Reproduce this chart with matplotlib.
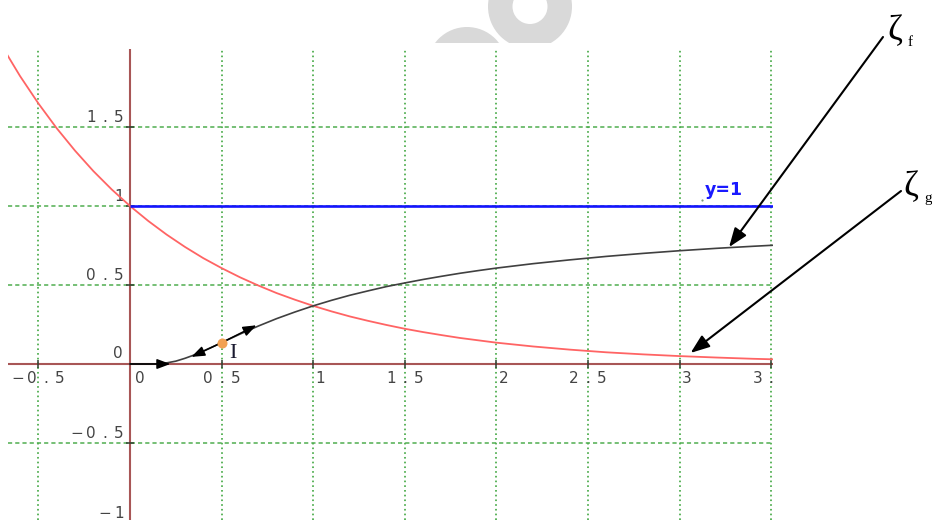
import matplotlib
matplotlib.use("Agg")
import matplotlib.pyplot as plt
from matplotlib.patches import Circle, Wedge, Rectangle

plt.rcParams["lines.scale_dashes"] = False

# ---- data -------------------------------------------------------------
# red curve (zeta_g)
g_x = [-0.7, -0.6, -0.5, -0.4, -0.3, -0.2, -0.1, 0.0, 0.1, 0.2, 0.3, 0.4,
       0.5, 0.6, 0.7, 0.8, 0.9, 1.0, 1.1, 1.2, 1.3, 1.4, 1.5, 1.6, 1.7,
       1.8, 1.9, 2.0, 2.2, 2.4, 2.6, 2.8, 3.0, 3.2, 3.4, 3.6]
g_y = [2.014, 1.822, 1.649, 1.492, 1.350, 1.221, 1.105, 1.000, 0.905,
       0.819, 0.741, 0.670, 0.607, 0.549, 0.497, 0.449, 0.407, 0.368,
       0.333, 0.301, 0.273, 0.247, 0.223, 0.202, 0.183, 0.165, 0.150,
       0.135, 0.111, 0.091, 0.074, 0.061, 0.050, 0.041, 0.033, 0.027]

# black curve (zeta_f)
f_x = [0.0, 0.1, 0.15, 0.2, 0.25, 0.3, 0.35, 0.4, 0.45, 0.5, 0.6, 0.7,
       0.8, 0.9, 1.0, 1.1, 1.2, 1.3, 1.4, 1.5, 1.6, 1.7, 1.8, 1.9, 2.0,
       2.2, 2.4, 2.6, 2.8, 3.0, 3.2, 3.4, 3.6]
f_y = [0.000, 0.000, 0.001, 0.007, 0.018, 0.036, 0.057, 0.082, 0.108,
       0.135, 0.189, 0.240, 0.287, 0.329, 0.368, 0.403, 0.435, 0.463,
       0.490, 0.513, 0.535, 0.555, 0.574, 0.591, 0.607, 0.635, 0.659,
       0.681, 0.700, 0.717, 0.732, 0.745, 0.757]

asymptote_y = 1.0
asymptote_label = "y=1"

point_x = 0.5
point_y = 0.135
point_label = "I"

tangent_x = [0.335, 0.69]
tangent_y = [0.045, 0.245]
origin_arrow_x = [0.0, 0.22]
origin_arrow_y = [0.0, 0.0]

curve_names = ["f", "g"]
curve_targets_x = [3.27, 3.06]
curve_targets_y = [0.74, 0.07]

x_ticks = [-0.5, 0.5, 1, 1.5, 2, 2.5, 3, 3.5]
x_tick_labels = ["\u22120.5", "0.5", "1", "1.5", "2", "2.5", "3", "3.5"]
y_ticks = [1.5, 1, 0.5, -0.5, -1]
y_tick_labels = ["1.5", "1", "0.5", "\u22120.5", "\u22121"]

# ---- figure -----------------------------------------------------------
W, H = 932, 520
fig = plt.figure(figsize=(W / 100, H / 100), dpi=100)

# faint grey emblem at the top edge
bg = fig.add_axes([0, 0, 1, 1], zorder=-5)
bg.set_xlim(0, W)
bg.set_ylim(H, 0)
bg.set_axis_off()
clip_rect = Rectangle((0, 0), W, 43, transform=bg.transData)
for p in (Wedge((530, 6.5), 42, 0, 360, width=24.5),
          Circle((467, 67), 40)):
    p.set_facecolor("#d9d9d9")
    p.set_edgecolor("none")
    bg.add_patch(p)
    p.set_clip_path(clip_rect)

left_px, right_px, top_px = 8, 773, 49
ax = fig.add_axes([left_px / W, 0, (right_px - left_px) / W, (H - top_px) / H])
ax.set_xlim((left_px - 130) / 183.2, (right_px - 130) / 183.2)
ax.set_ylim((364 - H) / 158.0, (364 - top_px) / 158.0)
ax.set_axis_off()

grid_c = "#4fae4f"
for xv in x_ticks:
    ax.axvline(xv, color=grid_c, lw=1.3, ls=(0, (1.2, 2.2)), zorder=1)
for yv in y_ticks:
    ax.axhline(yv, color=grid_c, lw=1.1, ls=(0, (3.0, 2.2)), zorder=1)

axis_c = "#a85656"
ax.axhline(0, color=axis_c, lw=1.5, zorder=2)
ax.axvline(0, color=axis_c, lw=1.5, zorder=2)
ax.plot(x_ticks, [0] * len(x_ticks), ls="none", marker="|", ms=6,
        mew=1.1, color="#2f3f2f", zorder=3)
ax.plot([0] * len(y_ticks), y_ticks, ls="none", marker="_", ms=6,
        mew=1.1, color="#2f3f2f", zorder=3)

# tick labels, drawn one character at a time for the wide spacing
PT = 0.72
PITCH = 14.0
lab_c = "#444444"


def spaced(s, x, y, dx, dy, align):
    n = len(s)
    for i, ch in enumerate(s):
        if align == "center":
            off = dx + PITCH * (i - (n - 1) / 2)
        else:
            off = dx - PITCH * (n - 1 - i)
        t = ax.annotate(ch, (x, y), xytext=(off * PT, dy * PT),
                        textcoords="offset points", ha="center",
                        va="baseline", fontsize=11, family="DejaVu Sans",
                        color=lab_c, annotation_clip=False, zorder=3)
        t.set_clip_box(ax.bbox)
        t.set_clip_on(True)


for xv, lab in zip(x_ticks, x_tick_labels):
    dx = 7 if "." not in lab else 0
    spaced(lab, xv, 0, dx, -19, "center")
spaced("0", 0, 0, 10, -19, "center")
for yv, lab in zip(y_ticks, y_tick_labels):
    spaced(lab, 0, yv, -11, 4.5, "right")
spaced("0", 0, 0, -12, 6, "right")

# curves
ax.plot(g_x, g_y, color="#ff6464", lw=1.3, zorder=4)
ax.plot(f_x, f_y, color="#404040", lw=1.2, zorder=4)
ax.plot([0, ax.get_xlim()[1]], [asymptote_y, asymptote_y],
        color="#1414ff", lw=1.9, zorder=4, solid_capstyle="butt")
ax.text((705 - 130) / 183.2, (364 - 195) / 158.0, asymptote_label,
        color="#1a1aff", fontsize=12.5, fontweight="bold",
        family="DejaVu Sans", ha="left", va="baseline", zorder=5)
ax.plot((702 - 130) / 183.2, (364 - 200) / 158.0, marker="o", ms=1.6,
        color="#7a9a7a", mec="none", zorder=5)

# tangent arrows
small_head = "-|>,head_length=8,head_width=3"
ax.annotate("", xy=(origin_arrow_x[1], origin_arrow_y[1]),
            xytext=(origin_arrow_x[0], origin_arrow_y[0]),
            arrowprops=dict(arrowstyle=small_head, color="black", lw=1.1,
                            shrinkA=0, shrinkB=0, mutation_scale=1),
            zorder=5)
for tx, ty in zip(tangent_x, tangent_y):
    ax.annotate("", xy=(tx, ty), xytext=(point_x, point_y),
                arrowprops=dict(arrowstyle=small_head, color="black",
                                lw=1.1, shrinkA=0, shrinkB=0,
                                mutation_scale=1), zorder=5)

ax.plot(point_x, point_y, marker="o", ms=7.2, color="#f2a152", mec="none",
        zorder=6)
ax.annotate(point_label, (point_x, point_y), xytext=(8 * PT, -15.5 * PT),
            textcoords="offset points", fontsize=16,
            family="Liberation Serif", color="#1a1a30", ha="left",
            va="baseline", zorder=6)

# curve name callouts in the right margin
starts = [(883, 37), (901, 191)]
name_pos = [(887, 40), (903, 196)]
big_head = "-|>,head_length=11.5,head_width=4.3"
for nm, cx, cy, (sx, sy), (nx, ny) in zip(curve_names, curve_targets_x,
                                          curve_targets_y, starts, name_pos):
    a = ax.annotate("", xy=(cx, cy), xytext=(sx, H - sy),
                    textcoords="figure pixels", annotation_clip=False,
                    arrowprops=dict(arrowstyle=big_head, color="black",
                                    lw=1.5, shrinkA=0, shrinkB=0,
                                    mutation_scale=1), zorder=7)
    a.arrow_patch.set_clip_on(False)
    fig.text(nx / W, (H - ny) / H, "\u03b6", fontsize=26,
             family="Liberation Serif", color="black", ha="left",
             va="baseline")
    fig.text((nx + 21) / W, (H - ny - 6) / H, nm, fontsize=11,
             family="Liberation Serif", color="black", ha="left",
             va="baseline")

fig.savefig("out.png", dpi=100, facecolor="white")
